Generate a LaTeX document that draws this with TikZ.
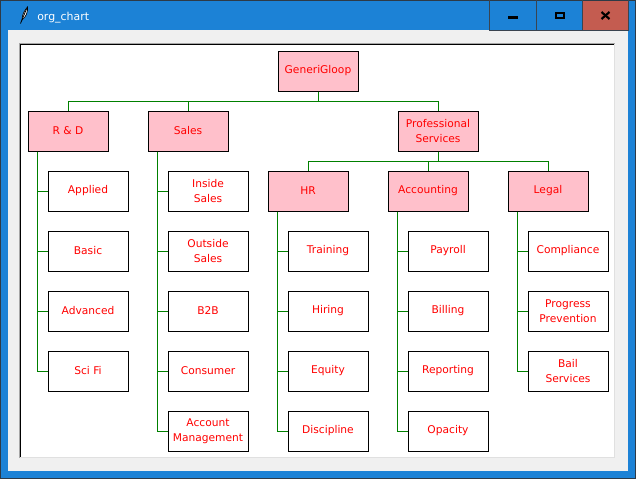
\documentclass[tikz,border=0pt]{standalone}
\usepackage{fontspec}
\setmainfont{DejaVu Sans}
\usepackage{tikz}

\definecolor{winblue}{HTML}{1C82D6}
\definecolor{winedge}{HTML}{2E3A46}
\definecolor{wingray}{HTML}{F0F0F0}
\definecolor{closered}{HTML}{C45C50}
\definecolor{btnedge}{HTML}{3A4450}
\definecolor{boxpink}{HTML}{FFC0CB}
\definecolor{boxred}{HTML}{FF0000}
\definecolor{linkgreen}{HTML}{008000}

\tikzset{dept/.style = {draw=black, fill=boxpink, text=boxred, line width=0.75pt,
                        minimum width=60pt, minimum height=30pt, inner sep=0pt,
                        align=center, font=\fontsize{8}{11.25}\selectfont}}
\tikzset{unit/.style = {dept, fill=white}}
\tikzset{link/.style = {draw=linkgreen, line width=0.75pt}}

\begin{document}
\begin{tikzpicture}[x=0.75pt, y=-0.75pt]
        \useasboundingbox (0,0) rectangle (636,479);

        % window frame
        \fill[winblue] (0,0) rectangle (636,479);
        \draw[winedge, line width=0.75pt] (0.5,0.5) rectangle (635.5,478.5);
        \fill[wingray] (8,30) rectangle (628,471);

        % title bar
        \draw[black, fill=white, line width=0.5pt]
            (22,20) .. controls (22,14) and (25,10) .. (27.5,7)
                    .. controls (28,12) and (26,17) .. (22,20) -- cycle;
        \draw[black, line width=0.6pt] (20.5,23.5) -- (26.5,9);
        \node [anchor=base west, text=white, inner sep=0pt,
               font=\fontsize{8.2}{10}\selectfont] (title) at (37,20) {org\_chart};

        \fill[closered] (582,0.8) rectangle (628,30);
        \draw[btnedge, line width=0.75pt] (489,0) -- (489,30) -- (628,30) -- (628,0);
        \draw[btnedge, line width=0.75pt] (536,0) -- (536,30);
        \draw[btnedge, line width=0.75pt] (582,0) -- (582,30);
        \fill[black] (508,16) rectangle (518,18.7);
        \draw[black, line width=1.5pt] (556,13) rectangle (564,18);
        \draw[black, line width=1.6pt] (601.5,12) -- (609.5,19);
        \draw[black, line width=1.6pt] (601.5,19) -- (609.5,12);

        % canvas
        \fill[white] (20,43) rectangle (615,458);
        \draw[gray!70, line width=0.75pt] (19.5,458) -- (19.5,43.5) -- (615,43.5);
        \draw[black, line width=0.75pt] (20.5,458) -- (20.5,44.5) -- (615,44.5);
        \draw[black!12, line width=0.75pt] (20,457.5) -- (614.5,457.5) -- (614.5,44);

        % top levels
        \node [dept] (gg)  at (318, 71) {GeneriGloop};
        \node [dept] (rd)  at ( 68,131) {R \& D};
        \node [dept] (sl)  at (188,131) {Sales};
        \node [dept] (ps)  at (438,131) {Professional\\Services};
        \node [dept] (hr)  at (308,191) {HR};
        \node [dept] (ac)  at (428,191) {Accounting};
        \node [dept] (lg)  at (548,191) {Legal};

        % R & D
        \node [unit] (rd1) at ( 88,191) {Applied};
        \node [unit] (rd2) at ( 88,251) {Basic};
        \node [unit] (rd3) at ( 88,311) {Advanced};
        \node [unit] (rd4) at ( 88,371) {Sci Fi};

        % Sales
        \node [unit] (sl1) at (208,191) {Inside\\Sales};
        \node [unit] (sl2) at (208,251) {Outside\\Sales};
        \node [unit] (sl3) at (208,311) {B2B};
        \node [unit] (sl4) at (208,371) {Consumer};
        \node [unit] (sl5) at (208,431) {Account\\Management};

        % HR
        \node [unit] (hr1) at (328,251) {Training};
        \node [unit] (hr2) at (328,311) {Hiring};
        \node [unit] (hr3) at (328,371) {Equity};
        \node [unit] (hr4) at (328,431) {Discipline};

        % Accounting
        \node [unit] (ac1) at (448,251) {Payroll};
        \node [unit] (ac2) at (448,311) {Billing};
        \node [unit] (ac3) at (448,371) {Reporting};
        \node [unit] (ac4) at (448,431) {Opacity};

        % Legal
        \node [unit] (lg1) at (568,251) {Compliance};
        \node [unit] (lg2) at (568,311) {Progress\\Prevention};
        \node [unit] (lg3) at (568,371) {Bail\\Services};

        % links
        \draw[link] (gg.south) -- ++(0,10) -| (rd.north);
        \draw[link] (gg.south) -- ++(0,10) -| (sl.north);
        \draw[link] (gg.south) -- ++(0,10) -| (ps.north);
        \draw[link] (ps.south) -- ++(0,10) -| (hr.north);
        \draw[link] (ps.south) -- ++(0,10) -| (ac.north);
        \draw[link] (ps.south) -- ++(0,10) -| (lg.north);

        \draw[link] (rd.south west) ++(10,0) |- (rd1.west);
        \draw[link] (rd.south west) ++(10,0) |- (rd2.west);
        \draw[link] (rd.south west) ++(10,0) |- (rd3.west);
        \draw[link] (rd.south west) ++(10,0) |- (rd4.west);

        \draw[link] (sl.south west) ++(10,0) |- (sl1.west);
        \draw[link] (sl.south west) ++(10,0) |- (sl2.west);
        \draw[link] (sl.south west) ++(10,0) |- (sl3.west);
        \draw[link] (sl.south west) ++(10,0) |- (sl4.west);
        \draw[link] (sl.south west) ++(10,0) |- (sl5.west);

        \draw[link] (hr.south west) ++(10,0) |- (hr1.west);
        \draw[link] (hr.south west) ++(10,0) |- (hr2.west);
        \draw[link] (hr.south west) ++(10,0) |- (hr3.west);
        \draw[link] (hr.south west) ++(10,0) |- (hr4.west);

        \draw[link] (ac.south west) ++(10,0) |- (ac1.west);
        \draw[link] (ac.south west) ++(10,0) |- (ac2.west);
        \draw[link] (ac.south west) ++(10,0) |- (ac3.west);
        \draw[link] (ac.south west) ++(10,0) |- (ac4.west);

        \draw[link] (lg.south west) ++(10,0) |- (lg1.west);
        \draw[link] (lg.south west) ++(10,0) |- (lg2.west);
        \draw[link] (lg.south west) ++(10,0) |- (lg3.west);
    \end{tikzpicture}
\end{document}
